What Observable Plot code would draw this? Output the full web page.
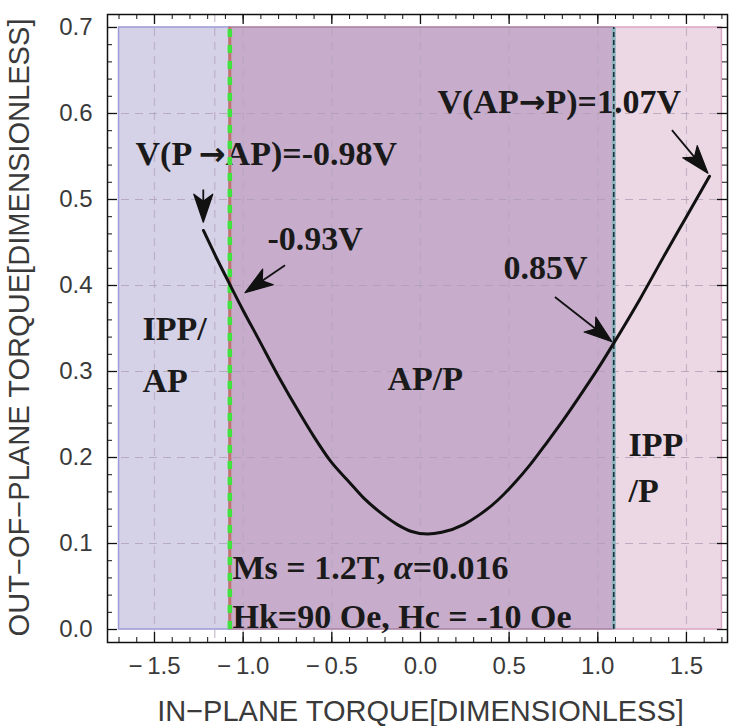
<!DOCTYPE html>
<html>
<head>
<meta charset="utf-8">
<script src="https://cdn.jsdelivr.net/npm/d3@7"></script>
<script src="https://cdn.jsdelivr.net/npm/@observablehq/plot@0.6"></script>
<style>
  html, body { margin: 0; padding: 0; background: #fff; }
  #chart { width: 729px; height: 726px; overflow: hidden; }
</style>
</head>
<body>
<div id="chart"></div>
<script>
// Out-of-plane vs in-plane torque along the switching path
const curveX = [-1.224, -1.15, -1.072, -1.0, -0.919, -0.8, -0.677, -0.6, -0.508, -0.4, -0.321, -0.22, -0.13, -0.05, 0.04,
                0.12, 0.243, 0.33, 0.434, 0.52, 0.62, 0.715, 0.80, 0.90, 1.0, 1.09, 1.24, 1.37, 1.50, 1.63];
const curveY = [0.464, 0.432, 0.400, 0.371, 0.340, 0.294, 0.250, 0.224, 0.196, 0.171, 0.153, 0.135, 0.122, 0.114, 0.111,
                0.113, 0.122, 0.133, 0.150, 0.168, 0.192, 0.218, 0.242, 0.272, 0.303, 0.333, 0.385, 0.433, 0.480, 0.527];

// State regions (in-plane torque ranges) and the switching boundaries between them
const regionNames = ["IPP/AP", "AP/P", "IPP/P"];
const regionX1 = [-1.70, -1.075, 1.09];
const regionX2 = [-1.075, 1.09, 1.70];
const regionYTop = 0.7;
const boundaryX = [-1.075, 1.09];

// Axis ticks
const xTickValues = [-1.5, -1.0, -0.5, 0.0, 0.5, 1.0, 1.5];
const xTickLabels = ["\u2212\u20091.5", "\u2212\u20091.0", "\u2212\u20090.5", "0.0", "0.5", "1.0", "1.5"];
const yTickValues = [0.0, 0.1, 0.2, 0.3, 0.4, 0.5, 0.6, 0.7];
const yTickLabels = ["0.0", "0.1", "0.2", "0.3", "0.4", "0.5", "0.6", "0.7"];
const xMinorTicks = d3.range(-17, 18).map(d => d / 10);
const yMinorTicks = d3.range(0, 36).map(d => d / 50);
const gridX = [-1.5, -1.16, -1.0, -0.5, 0.0, 0.5, 1.0, 1.5];
const gridY = [0.1, 0.2, 0.3, 0.4, 0.5, 0.6];

// Annotations: text and anchor (left end of the baseline) in data units
const annoText = ["V(P \u2192AP)=-0.98V", "-0.93V", "0.85V", "V(AP\u2192P)=1.07V",
                  "IPP/", "AP", "AP/P", "IPP", "/P",
                  "Ms = 1.2T, \u03b1=0.016", "Hk=90 Oe, Hc = -10 Oe"];
const annoX = [-1.607, -0.863, 0.468, 0.096, -1.568, -1.568, -0.186, 1.173, 1.173, -1.060, -1.060];
const annoY = [0.540, 0.441, 0.408, 0.600, 0.337, 0.276, 0.278, 0.202, 0.148, 0.0593, 0.0023];

// Arrows pointing at the switching voltages on the curve
const arrowX1 = [-1.222, -0.761, 0.761, 1.421];
const arrowY1 = [0.511, 0.423, 0.386, 0.580];
const arrowX2 = [-1.222, -0.987, 1.083, 1.624];
const arrowY2 = [0.473, 0.391, 0.334, 0.530];

// ---- tables built from the arrays above ----
const curve = curveX.map((x, i) => ({x, y: curveY[i]}));
const regions = regionNames.map((name, i) => ({name, x1: regionX1[i], x2: regionX2[i], y1: 0, y2: regionYTop}));
const annotations = annoText.map((text, i) => ({text, x: annoX[i], y: annoY[i]}));
const arrows = arrowX1.map((x1, i) => ({x1, y1: arrowY1[i], x2: arrowX2[i], y2: arrowY2[i]}));
const xTicks = xTickValues.map((v, i) => ({v, label: xTickLabels[i]}));
const yTicks = yTickValues.map((v, i) => ({v, label: yTickLabels[i]}));

// ---- layout & style ----
const W = 729, H = 726, mL = 107, mR = 2, mT = 14, mB = 84;
const frameW = W - mL - mR, frameH = H - mT - mB;
const regionFill = {"IPP/AP": "#d5d2e8", "AP/P": "#c7adcb", "IPP/P": "#ecd8e4"};
const regionStroke = {"IPP/AP": "#9d9bd8", "AP/P": "#a97e9f", "IPP/P": "#dba6c2"};
const sans = "'Liberation Sans', Arial, sans-serif";
const serif = "'Liberation Serif', 'Times New Roman', serif";
const labelColor = "#3a3a3a";
const headLength = 28, headHalfWidth = 9.5;

// Filled arrowheads with a notched back, drawn in screen space from the scales
function arrowMark(index, scales) {
  const g = d3.create("svg:g");
  for (const a of arrows) {
    const x1 = scales.x(a.x1), y1 = scales.y(a.y1);
    const x2 = scales.x(a.x2), y2 = scales.y(a.y2);
    const ang = Math.atan2(y2 - y1, x2 - x1);
    const c = Math.cos(ang), s = Math.sin(ang);
    const P = ([u, v]) => [x2 + u * c - v * s, y2 + u * s + v * c];
    const notch = P([-0.75 * headLength, 0]);
    g.append("line")
      .attr("x1", x1).attr("y1", y1).attr("x2", notch[0]).attr("y2", notch[1])
      .attr("stroke", "#111").attr("stroke-width", 1.8);
    const pts = [[0, 0], [-headLength, -headHalfWidth], [-0.75 * headLength, 0], [-headLength, headHalfWidth]].map(P);
    g.append("path")
      .attr("d", "M" + pts.map(p => p.join(",")).join("L") + "Z")
      .attr("fill", "#111").attr("stroke", "#111").attr("stroke-width", 1.2)
      .attr("stroke-linejoin", "round");
  }
  return g.node();
}

const chart = Plot.plot({
  width: W,
  height: H,
  marginLeft: mL,
  marginRight: mR,
  marginTop: mT,
  marginBottom: mB,
  style: {fontFamily: sans, background: "white", overflow: "visible"},
  x: {domain: [-1.765, 1.7315], axis: null},
  y: {domain: [-0.0151, 0.7151], axis: null},
  marks: [
    // state regions
    Plot.rect(regions, {x1: "x1", x2: "x2", y1: "y1", y2: "y2",
      fill: d => regionFill[d.name], stroke: d => regionStroke[d.name], strokeWidth: 1.5}),
    // dashed grid
    Plot.ruleX(gridX, {x: d => d, stroke: "#b7a6bd", strokeOpacity: 0.75, strokeWidth: 1.2, strokeDasharray: "8,6"}),
    Plot.ruleY(gridY, {y: d => d, stroke: "#ad9db3", strokeOpacity: 0.75, strokeWidth: 1.2, strokeDasharray: "8,6"}),
    // annotations
    Plot.text(annotations, {x: "x", y: "y", text: "text", textAnchor: "start", lineAnchor: "bottom",
      fontFamily: serif, fontWeight: "bold", fontSize: 34, fill: "#1a1a1a"}),
    // switching boundaries
    Plot.ruleX([boundaryX[0]], {x: d => d, y1: 0, y2: regionYTop, stroke: "#c27470", strokeWidth: 3}),
    Plot.ruleX([boundaryX[0]], {x: d => d, y1: 0, y2: regionYTop, stroke: "#3fe23f", strokeWidth: 4.5, strokeDasharray: "8,8"}),
    Plot.ruleX([boundaryX[1]], {x: d => d, y1: 0, y2: regionYTop, stroke: "#8cb4bf", strokeWidth: 4}),
    Plot.ruleX([boundaryX[1]], {x: d => d, y1: 0, y2: regionYTop, stroke: "#22303c", strokeWidth: 1.6, strokeDasharray: "5,3"}),
    // torque curve
    Plot.line(curve, {x: "x", y: "y", stroke: "#111", strokeWidth: 3, curve: "monotone-x"}),
    // arrows
    arrowMark,
    // frame with inward ticks on all four sides
    Plot.frame({stroke: "#111", strokeWidth: 1.5}),
    Plot.tickX(xMinorTicks, {x: d => d, insetTop: frameH - 5, stroke: "#111"}),
    Plot.tickX(xTickValues, {x: d => d, insetTop: frameH - 10, stroke: "#111", strokeWidth: 1.3}),
    Plot.tickX(xMinorTicks, {x: d => d, insetBottom: frameH - 5, stroke: "#111"}),
    Plot.tickX(xTickValues, {x: d => d, insetBottom: frameH - 10, stroke: "#111", strokeWidth: 1.3}),
    Plot.tickY(yMinorTicks, {y: d => d, insetRight: frameW - 5, stroke: "#111"}),
    Plot.tickY(yTickValues, {y: d => d, insetRight: frameW - 10, stroke: "#111", strokeWidth: 1.3}),
    Plot.tickY(yMinorTicks, {y: d => d, insetLeft: frameW - 5, stroke: "#111"}),
    Plot.tickY(yTickValues, {y: d => d, insetLeft: frameW - 10, stroke: "#111", strokeWidth: 1.3}),
    // tick labels
    Plot.text(xTicks, {x: "v", text: "label", frameAnchor: "bottom", dy: 31, lineAnchor: "bottom",
      fontSize: 24, fill: labelColor}),
    Plot.text(yTicks, {y: "v", text: "label", frameAnchor: "left", dx: -15, textAnchor: "end",
      fontSize: 24, fill: labelColor}),
    // axis titles
    Plot.text(["IN\u2212PLANE TORQUE[DIMENSIONLESS]"], {frameAnchor: "bottom", dx: 313 - frameW / 2, dy: 78,
      lineAnchor: "bottom", fontSize: 29, fill: labelColor}),
    Plot.text(["OUT\u2212OF\u2212PLANE TORQUE[DIMENSIONLESS]"], {frameAnchor: "bottom-left", dx: -79, dy: -6,
      rotate: -90, textAnchor: "start", fontSize: 29, fill: labelColor})
  ]
});

// rich text: italic alpha, heavier arrows in the voltage labels, fitted y title
d3.select(chart).selectAll("text").each(function () {
  const content = this.textContent;
  const t = d3.select(this);
  if (content === "Ms = 1.2T, \u03b1=0.016") {
    t.text(null);
    t.append("tspan").text("Ms = 1.2T, ");
    t.append("tspan").attr("font-style", "italic").text("\u03b1");
    t.append("tspan").text("=0.016");
  } else if (content.startsWith("V(") && content.includes("\u2192")) {
    const [before, after] = content.split("\u2192");
    t.text(null);
    t.append("tspan").text(before);
    t.append("tspan").attr("font-family", "'DejaVu Sans', sans-serif").attr("font-weight", "bold")
      .attr("font-size", 32).text("\u2192");
    t.append("tspan").text(after);
  } else if (content.startsWith("OUT")) {
    t.attr("textLength", 618).attr("lengthAdjust", "spacingAndGlyphs");
  }
});

document.getElementById("chart").appendChild(chart);
</script>
</body>
</html>
